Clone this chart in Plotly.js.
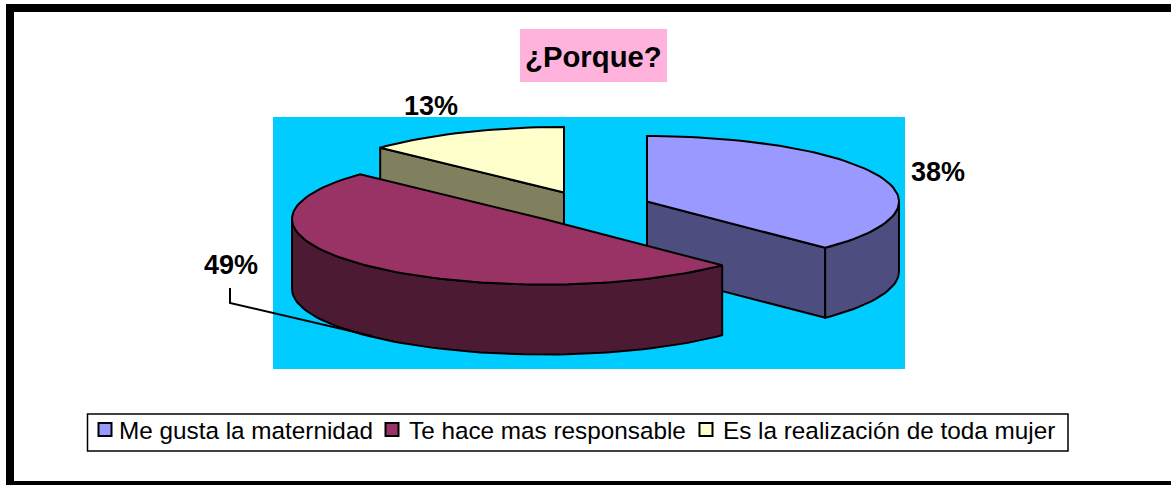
<!DOCTYPE html>
<html><head><meta charset="utf-8">
<script src="https://cdn.plot.ly/plotly-3.0.1.min.js"></script>
<style>html,body{margin:0;padding:0;background:#fff}#c{width:1171px;height:485px}</style>
</head><body><div id="c"></div>
<script>
const categories = ["Me gusta la maternidad", "Te hace mas responsable", "Es la realización de toda mujer"];
const values = [37.5, 49.49, 13.01];
const topColors = ["#9999FF", "#993366", "#FFFFCC"];
const sideColors = ["#4D4D80", "#4D1A33", "#80805F"];
// slice centres after explosion (pixel-scaled axes)
const centers = [[647, 201.5], [544, 219], [564, 192.5]];
const labelPos = [[938, 172], [231, 265], [431, 106]];
const legendTextX = [118, 407.5, 722];
const legendSwatchX = [105, 392, 706];
const RX = 252, RY = 65.5, DEPTH = 70;

const total = values.reduce((a, b) => a + b, 0);
const ang = [];
let acc = 0;
values.forEach(v => { ang.push([acc, acc + v / total * 360]); acc += v / total * 360; });
const rad = d => d * Math.PI / 180;
const px = (i, d) => centers[i][0] + RX * Math.sin(rad(d));
const py = (i, d) => centers[i][1] - RY * Math.cos(rad(d));
function arc(i, a, b) {
  const pts = [], n = Math.max(2, Math.ceil(Math.abs(b - a) / 2));
  for (let k = 0; k <= n; k++) { const d = a + (b - a) * k / n; pts.push([px(i, d), py(i, d)]); }
  return pts;
}
function poly(pts, fill) {
  const p = pts.concat([pts[0]]);
  return { type: "scatter", mode: "lines", x: p.map(q => q[0]), y: p.map(q => q[1]), fill: "toself",
    fillcolor: fill, line: { color: "#000", width: 2 }, hoverinfo: "skip", showlegend: false };
}
function topFace(i) { return poly([[centers[i][0], centers[i][1]]].concat(arc(i, ang[i][0], ang[i][1])), topColors[i]); }
function cutFace(i, d) {
  return poly([[centers[i][0], centers[i][1]], [px(i, d), py(i, d)], [px(i, d), py(i, d) + DEPTH], [centers[i][0], centers[i][1] + DEPTH]], sideColors[i]);
}
function outerFace(i, a, b) {
  const top = arc(i, a, b), bot = top.map(q => [q[0], q[1] + DEPTH]).reverse();
  return poly(top.concat(bot), sideColors[i]);
}
const traces = [
  cutFace(2, ang[2][0]), topFace(2),
  cutFace(0, ang[0][1]), outerFace(0, 90, ang[0][1]), topFace(0),
  outerFace(1, ang[1][0], 270), topFace(1),
  { type: "scatter", mode: "lines", x: [230, 230, 372], y: [288, 303, 336], line: { color: "#000", width: 2 }, hoverinfo: "skip", showlegend: false },
  { type: "scatter", mode: "markers", x: legendSwatchX, y: [429.5, 429.5, 429.5],
    marker: { symbol: "square", size: 13, color: topColors, line: { color: "#000", width: 2 } }, hoverinfo: "skip", showlegend: false }
];
const font = "'Liberation Sans', Arial, sans-serif";
const annotations = [
  { x: 593.5, y: 56, text: "<b>¿Porque?</b>", font: { family: font, size: 29.3, color: "#000" } }
];
values.forEach((v, i) => annotations.push({ x: labelPos[i][0], y: labelPos[i][1], text: "<b>" + Math.round(v) + "%</b>", font: { family: font, size: 27, color: "#000" } }));
categories.forEach((c, i) => annotations.push({ x: legendTextX[i], y: 430, text: c, xanchor: "left", font: { family: font, size: 24.3, color: "#000" } }));
annotations.forEach(a => { a.xref = "x"; a.yref = "y"; a.showarrow = false; a.borderpad = 0; if (!a.xanchor) a.xanchor = "center"; a.yanchor = "middle"; });

const rect = (x0, y0, x1, y1, fill, lw) => ({ type: "rect", xref: "x", yref: "y", x0, y0, x1, y1, fillcolor: fill, line: { color: "#000", width: lw || 0 }, layer: "below" });
const layout = {
  width: 1171, height: 485, margin: { l: 0, r: 0, t: 0, b: 0 }, paper_bgcolor: "#fff", plot_bgcolor: "#fff",
  xaxis: { range: [0, 1171], visible: false, fixedrange: true },
  yaxis: { range: [485, 0], visible: false, fixedrange: true },
  showlegend: false, annotations,
  shapes: [
    rect(6, 4, 1171, 12, "#000"), rect(6, 4, 14, 485, "#000"), rect(6, 481, 1171, 485, "#000"),
    rect(273, 117, 905, 369, "#00CCFF"),
    rect(520, 29, 667, 82, "#FFB3DC"),
    rect(87.5, 414, 1068, 451, "#fff", 1.5)
  ]
};
Plotly.newPlot("c", traces, layout, { displayModeBar: false, staticPlot: true });
</script></body></html>
